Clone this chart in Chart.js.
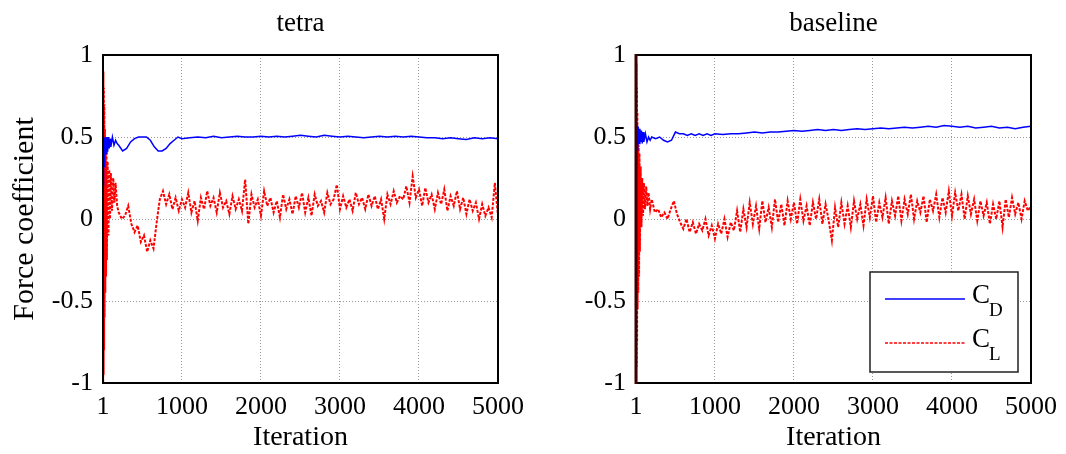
<!DOCTYPE html>
<html>
<head>
<meta charset="utf-8">
<script src="https://cdn.jsdelivr.net/npm/chart.js@4.4.1/dist/chart.umd.min.js"></script>
<style>
  html, body { margin: 0; padding: 0; background: #fff; overflow: hidden; }
  canvas { position: absolute; top: 0; }
  #tetraChart { left: 0; }
  #baselineChart { left: 533px; }
</style>
</head>
<body>
<canvas id="tetraChart" width="533" height="454"></canvas>
<canvas id="baselineChart" width="533" height="454"></canvas>
<script>
// tick labels
const xTicks = [1, 1000, 2000, 3000, 4000, 5000];
const yTicks = [-1, -0.5, 0, 0.5, 1];

// iterations sampled for C_D (drag)
const cdIters = [1, 5, 10, 15, 20, 25, 30, 40, 50, 60, 70, 80, 90, 100, 120, 140, 160, 180,
  200, 250, 300, 350, 400, 450, 500, 550, 600, 650, 700, 750, 800, 850, 900, 950,
  1000, 1100, 1200, 1300, 1400, 1500, 1600, 1700, 1800, 1900,
  2000, 2100, 2200, 2300, 2400, 2500, 2600, 2700, 2800, 2900,
  3000, 3100, 3200, 3300, 3400, 3500, 3600, 3700, 3800, 3900,
  4000, 4100, 4200, 4300, 4400, 4500, 4600, 4700, 4800, 4900, 5000];

// iterations sampled for C_L (lift)
const clIters = [1, 3, 6, 9, 12, 15, 18, 21, 25, 30, 35, 40, 45, 50, 60, 70, 80, 90, 100, 115, 130, 145, 160, 180,
  200, 240, 280, 320, 360, 400, 440, 480, 520, 560,
  600, 640, 680, 720, 760, 800, 840, 880, 920, 960,
  1000, 1040, 1080, 1120, 1160, 1200, 1240, 1280, 1320, 1360,
  1400, 1440, 1480, 1520, 1560, 1600, 1640, 1680, 1720, 1760,
  1800, 1840, 1880, 1920, 1960, 2000, 2040, 2080, 2120, 2160,
  2200, 2240, 2280, 2320, 2360, 2400, 2440, 2480, 2520, 2560,
  2600, 2640, 2680, 2720, 2760, 2800, 2840, 2880, 2920, 2960,
  3000, 3040, 3080, 3120, 3160, 3200, 3240, 3280, 3320, 3360,
  3400, 3440, 3480, 3520, 3560, 3600, 3640, 3680, 3720, 3760,
  3800, 3840, 3880, 3920, 3960, 4000, 4040, 4080, 4120, 4160,
  4200, 4240, 4280, 4320, 4360, 4400, 4440, 4480, 4520, 4560,
  4600, 4640, 4680, 4720, 4760, 4800, 4840, 4880, 4920, 4960,
  5000];

const tetraCD = [0.5, 0.2, 0.46, 0.32, 0.49, 0.38, 0.5, 0.4, 0.5, 0.41, 0.5, 0.43, 0.49, 0.44, 0.5, 0.45, 0.48, 0.46,
  0.45, 0.415, 0.43, 0.47, 0.49, 0.5, 0.5, 0.5, 0.48, 0.44, 0.415, 0.415, 0.43, 0.46, 0.48, 0.5,
  0.49, 0.495, 0.5, 0.495, 0.505, 0.495, 0.5, 0.505, 0.5, 0.5,
  0.505, 0.5, 0.505, 0.5, 0.505, 0.51, 0.505, 0.5, 0.51, 0.505,
  0.5, 0.505, 0.5, 0.495, 0.5, 0.505, 0.5, 0.505, 0.5, 0.505,
  0.5, 0.495, 0.495, 0.49, 0.495, 0.49, 0.485, 0.495, 0.49, 0.495, 0.49];

const tetraCL = [1.0, -1.0, 0.9, -0.95, 0.8, -0.8, 0.7, -0.6, 0.55, -0.45, 0.45, -0.35, 0.4, -0.25, 0.35, -0.1, 0.3, 0.0, 0.28, 0.05, 0.25, 0.1, 0.22, 0.08,
  0.04, 0.0, 0.02, 0.08, -0.03, -0.08, -0.04, -0.14, -0.1, -0.2,
  -0.13, -0.18, -0.02, 0.12, 0.17, 0.09, 0.15, 0.06, 0.13, 0.05,
  0.12, 0.07, 0.16, 0.04, 0.11, -0.01, 0.13, 0.06, 0.17, 0.08,
  0.13, 0.04, 0.16, 0.07, 0.11, 0.03, 0.14, 0.06, 0.12, 0.05,
  0.24, -0.03, 0.15, 0.07, 0.12, 0.02, 0.17, 0.08, 0.13, 0.04,
  0.11, 0.01, 0.15, 0.06, 0.12, 0.03, 0.14, 0.07, 0.16, 0.04,
  0.13, 0.02, 0.15, 0.08, 0.11, 0.04, 0.16, 0.09, 0.12, 0.21,
  0.06, 0.14, 0.07, 0.12, 0.05, 0.16, 0.09, 0.13, 0.06, 0.15,
  0.08, 0.14, 0.06, 0.12, 0.0, 0.15, 0.09, 0.17, 0.1, 0.14,
  0.12, 0.2, 0.1, 0.26, 0.13, 0.18, 0.08, 0.19, 0.1, 0.15,
  0.06, 0.16, 0.09, 0.18, 0.05, 0.14, 0.08, 0.17, 0.06, 0.13,
  0.03, 0.12, 0.05, 0.1, 0.0, 0.09, 0.02, 0.07, 0.01, 0.22,
  0.02];

const baselineCD = [0.55, 0.3, 0.56, 0.42, 0.57, 0.45, 0.56, 0.46, 0.55, 0.47, 0.54, 0.46, 0.53, 0.47, 0.52, 0.47, 0.5, 0.48,
  0.5, 0.49, 0.5, 0.48, 0.47, 0.48, 0.53, 0.52, 0.52, 0.51, 0.52, 0.51, 0.52, 0.51, 0.52, 0.51,
  0.52, 0.515, 0.52, 0.52, 0.525, 0.53, 0.525, 0.53, 0.53, 0.535,
  0.54, 0.535, 0.54, 0.545, 0.54, 0.545, 0.54, 0.545, 0.55, 0.545,
  0.55, 0.555, 0.55, 0.555, 0.56, 0.555, 0.56, 0.565, 0.56, 0.57,
  0.565, 0.56, 0.565, 0.555, 0.56, 0.565, 0.555, 0.56, 0.55, 0.56, 0.565];

const baselineCL = [1.0, -1.0, 0.95, -0.9, 0.8, -0.75, 0.65, -0.55, 0.5, -0.45, 0.45, -0.35, 0.4, -0.2, 0.32, -0.05, 0.25, 0.02, 0.22, 0.06, 0.2, 0.08, 0.16, 0.06,
  0.12, 0.04, 0.06, 0.01, 0.04, 0.0, 0.06, 0.11, 0.03, -0.02,
  -0.06, 0.0, -0.08, -0.02, -0.09, -0.03, -0.07, 0.0, -0.1, -0.04,
  -0.12, -0.03, -0.09, 0.0, -0.11, -0.02, -0.07, 0.05, -0.08, 0.06,
  -0.05, 0.1, -0.03, 0.08, -0.06, 0.11, -0.02, 0.07, -0.05, 0.12,
  -0.02, 0.09, -0.04, 0.11, 0.0, 0.1, -0.03, 0.12, -0.01, 0.08,
  -0.04, 0.1, 0.0, 0.12, -0.03, 0.09, -0.01, -0.13, 0.07, -0.05,
  0.1, -0.03, 0.08, -0.05, 0.11, 0.0, 0.09, -0.04, 0.12, 0.01,
  0.14, -0.02, 0.1, 0.01, 0.13, -0.03, 0.11, 0.02, 0.14, -0.01,
  0.12, 0.03, 0.15, 0.0, 0.11, 0.04, 0.14, -0.02, 0.12, 0.05,
  0.15, 0.01, 0.13, 0.04, 0.17, 0.02, 0.16, 0.05, 0.15, 0.0,
  0.14, 0.03, 0.12, -0.01, 0.11, 0.02, 0.1, -0.03, 0.09, 0.0,
  0.11, -0.05, 0.12, 0.01, 0.13, 0.03, 0.1, 0.0, 0.11, 0.05,
  0.08];

const serif = "'Liberation Serif', 'Times New Roman', serif";

// black box round the plot area, like matlab
const framePlugin = {
  id: 'frame',
  afterDraw(chart, args, opts) {
    const { ctx, chartArea: a } = chart;
    ctx.save();
    ctx.strokeStyle = '#000';
    ctx.lineWidth = 2;
    ctx.strokeRect(a.left, a.top, a.right - a.left, a.bottom - a.top);
    if (opts.leftColor) {
      ctx.strokeStyle = opts.leftColor;
      ctx.lineWidth = 3;
      ctx.beginPath();
      ctx.moveTo(a.left, a.top - 1);
      ctx.lineTo(a.left, a.bottom + 1);
      ctx.stroke();
    }
    ctx.restore();
  }
};

// title centred over the plot area
const plotTitle = {
  id: 'plotTitle',
  afterDraw(chart, args, opts) {
    const { ctx, chartArea: a } = chart;
    ctx.save();
    ctx.font = '27px ' + serif;
    ctx.fillStyle = '#000';
    ctx.textAlign = 'center';
    ctx.textBaseline = 'alphabetic';
    ctx.fillText(opts.text, (a.left + a.right) / 2, 31);
    ctx.restore();
  }
};

// legend with subscripts (C_D, C_L)
const subLegend = {
  id: 'subLegend',
  afterDraw(chart, args, opts) {
    if (!opts.show) return;
    const { ctx, chartArea: a } = chart;
    const bx = a.right - 161, by = a.bottom - 111, bw = 148, bh = 100;
    ctx.save();
    ctx.fillStyle = '#fff';
    ctx.fillRect(bx, by, bw, bh);
    ctx.strokeStyle = '#222';
    ctx.lineWidth = 1.5;
    ctx.strokeRect(bx, by, bw, bh);
    chart.data.datasets.forEach((ds, i) => {
      const [main, sub] = ds.label.split('_');
      const ly = by + 27 + i * 44;
      ctx.strokeStyle = ds.borderColor;
      ctx.lineWidth = 1.3;
      ctx.setLineDash(ds.borderDash || []);
      ctx.beginPath();
      ctx.moveTo(bx + 15, ly);
      ctx.lineTo(bx + 95, ly);
      ctx.stroke();
      ctx.setLineDash([]);
      ctx.fillStyle = '#000';
      ctx.textBaseline = 'alphabetic';
      ctx.font = '27px ' + serif;
      ctx.fillText(main, bx + 102, ly + 4);
      const w = ctx.measureText(main).width;
      ctx.font = '19px ' + serif;
      ctx.fillText(sub, bx + 102 + w - 1, ly + 17);
    });
    ctx.restore();
  }
};

function pts(xs, ys) {
  return xs.map((x, i) => ({ x: x, y: ys[i] }));
}

function makeChart(id, title, cd, cl, extra) {
  return new Chart(document.getElementById(id), {
    type: 'line',
    data: {
      datasets: [
        {
          label: 'C_D',
          data: pts(cdIters, cd),
          borderColor: '#0000ff',
          borderWidth: 1.5,
          pointRadius: 0,
          tension: 0
        },
        {
          label: 'C_L',
          data: pts(clIters, cl),
          borderColor: '#ff0000',
          borderWidth: 2,
          borderDash: [3, 1.5],
          pointRadius: 0,
          tension: 0
        }
      ]
    },
    options: {
      responsive: false,
      animation: false,
      layout: { padding: { top: 55, right: 33, bottom: 0, left: 0 } },
      plugins: {
        legend: { display: false },
        tooltip: { enabled: false },
        plotTitle: { text: title },
        subLegend: { show: extra.legend },
        frame: { leftColor: extra.leftColor }
      },
      scales: {
        x: {
          type: 'linear',
          min: 1,
          max: 5000,
          afterBuildTicks: (s) => { s.ticks = xTicks.map(v => ({ value: v })); },
          afterFit: (s) => { s.height = 71; },
          grid: { color: '#999', lineWidth: 1, drawTicks: false },
          border: { display: false, dash: [1, 2] },
          ticks: {
            padding: 9,
            maxRotation: 0,
            autoSkip: false,
            color: '#000',
            font: { family: serif, size: 26 },
            callback: (v) => String(v)
          },
          title: {
            display: true,
            text: 'Iteration',
            color: '#000',
            font: { family: serif, size: 28 },
            padding: { top: 0, bottom: 0 }
          }
        },
        y: {
          min: -1,
          max: 1,
          afterBuildTicks: (s) => { s.ticks = yTicks.map(v => ({ value: v })); },
          afterFit: (s) => { s.width = 103; },
          grid: { color: '#999', lineWidth: 1, drawTicks: false },
          border: { display: false, dash: [1, 2] },
          ticks: {
            padding: 10,
            color: '#000',
            font: { family: serif, size: 26 },
            callback: (v) => String(v)
          },
          title: {
            display: extra.yTitle,
            text: 'Force coefficient',
            color: '#000',
            font: { family: serif, size: 30 },
            padding: { top: 7, bottom: 0 }
          }
        }
      }
    },
    plugins: [framePlugin, plotTitle, subLegend]
  });
}

makeChart('tetraChart', 'tetra', tetraCD, tetraCL, { yTitle: true, legend: false });
makeChart('baselineChart', 'baseline', baselineCD, baselineCL, { yTitle: false, legend: true, leftColor: '#3d0000' });
</script>
</body>
</html>
